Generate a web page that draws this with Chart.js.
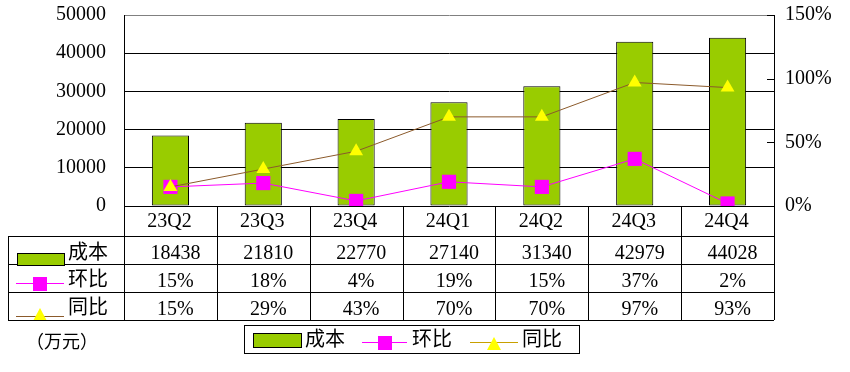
<!DOCTYPE html>
<html>
<head>
<meta charset="utf-8">
<script src="https://cdn.jsdelivr.net/npm/chart.js@4/dist/chart.umd.min.js"></script>
<style>
  html, body { margin: 0; padding: 0; background: #fff; }
  #wrap { width: 850px; height: 372px; }
</style>
</head>
<body>
<div id="wrap"><canvas id="costChart" width="850" height="372"></canvas></div>
<script>
// 数据
const quarters = ['23Q2', '23Q3', '23Q4', '24Q1', '24Q2', '24Q3', '24Q4'];
const cost = [18438, 21810, 22770, 27140, 31340, 42979, 44028];   // 成本（万元）
const qoq = [0.15, 0.18, 0.04, 0.19, 0.15, 0.37, 0.02];           // 环比
const yoy = [0.15, 0.29, 0.43, 0.70, 0.70, 0.97, 0.93];           // 同比
const seriesNames = ['成本', '环比', '同比'];
const unitLabel = '（万元）';

const GREEN = '#99CC00';
const MAGENTA = '#FF00FF';
const YELLOW = '#FFFF00';
const BROWN = '#8B5A2B';
const FONT = "'Liberation Serif', 'Noto Sans CJK SC', serif";

const pct = v => Math.round(v * 100) + '%';

// 表格 + 图例
const tablePlugin = {
    id: 'dataTable',
    afterDraw(chart) {
        const ctx = chart.ctx;
        const area = chart.chartArea;
        const xs = chart.scales.x;
        const y2 = chart.scales.y2;
        const step = xs.getPixelForValue(1) - xs.getPixelForValue(0);
        const rows = [area.bottom, 236, 264, 292, 320];
        const tableLeft = 8;

        ctx.save();
        // 右轴内侧刻度
        ctx.strokeStyle = '#000';
        ctx.lineWidth = 1;
        y2.ticks.forEach(t => {
            const py = Math.round(y2.getPixelForValue(t.value)) + 0.5;
            ctx.beginPath();
            ctx.moveTo(area.right - 7, py);
            ctx.lineTo(area.right, py);
            ctx.stroke();
        });

        // 表格线
        ctx.beginPath();
        for (let i = 1; i < rows.length; i++) {
            const py = rows[i] + 0.5;
            ctx.moveTo(tableLeft, py);
            ctx.lineTo(area.right, py);
        }
        ctx.moveTo(tableLeft + 0.5, rows[1]);
        ctx.lineTo(tableLeft + 0.5, rows[4]);
        for (let i = 0; i <= quarters.length; i++) {
            const px = Math.round(xs.getPixelForValue(i) - step / 2) + 0.5;
            ctx.moveTo(px, rows[0]);
            ctx.lineTo(px, rows[4]);
        }
        ctx.stroke();

        // 表格文字
        ctx.fillStyle = '#000';
        ctx.font = '20px ' + FONT;
        ctx.textAlign = 'center';
        ctx.textBaseline = 'middle';
        const rowTexts = [quarters, cost.map(String), qoq.map(pct), yoy.map(pct)];
        rowTexts.forEach((texts, r) => {
            const cy = (rows[r] + rows[r + 1]) / 2 + (r === 0 ? 1 : 4);
            texts.forEach((t, i) => {
                const cx = xs.getPixelForValue(i) + (r === 0 ? -1 : 5);
                ctx.fillText(t, cx, cy);
            });
        });

        // 表格左侧图例
        ctx.textAlign = 'left';
        drawRect(ctx, 17, 253, 47, 12);
        drawLineMarker(ctx, 16, 64, 283, MAGENTA, 'rect', 40, 284);
        ctx.save();
        ctx.beginPath();
        ctx.rect(tableLeft, rows[3], 116, rows[4] - rows[3]);
        ctx.clip();
        drawLineMarker(ctx, 16, 64, 316, BROWN, 'triangle', 40, 316);
        ctx.restore();
        ctx.fillStyle = '#000';
        ctx.font = '20px ' + FONT;
        ctx.fillText(seriesNames[0], 68, 254);
        ctx.fillText(seriesNames[1], 68, 281);
        ctx.fillText(seriesNames[2], 68, 309);

        // 单位
        ctx.font = '18px ' + FONT;
        ctx.fillText(unitLabel, 26, 343);

        // 底部图例
        ctx.strokeStyle = '#000';
        ctx.strokeRect(244.5, 325.5, 335, 28);
        drawRect(ctx, 253, 333, 48, 14);
        drawLineMarker(ctx, 362, 407, 342, MAGENTA, 'rect', 385, 343);
        drawLineMarker(ctx, 470, 518, 342, '#C8A000', 'triangle', 494, 345);
        ctx.fillStyle = '#000';
        ctx.font = '20px ' + FONT;
        ctx.textBaseline = 'middle';
        ctx.fillText(seriesNames[0], 305, 341);
        ctx.fillText(seriesNames[1], 412, 341);
        ctx.fillText(seriesNames[2], 522, 341);
        ctx.restore();
    }
};

function drawRect(ctx, x, y, w, h) {
    ctx.fillStyle = GREEN;
    ctx.fillRect(x, y, w, h);
    ctx.strokeStyle = '#000';
    ctx.lineWidth = 1;
    ctx.strokeRect(x + 0.5, y + 0.5, w, h);
}

function drawLineMarker(ctx, x1, x2, ly, lineColor, style, mx, my) {
    ctx.strokeStyle = lineColor;
    ctx.lineWidth = 1;
    ctx.beginPath();
    ctx.moveTo(x1, ly + 0.5);
    ctx.lineTo(x2, ly + 0.5);
    ctx.stroke();
    if (style === 'rect') {
        ctx.fillStyle = MAGENTA;
        ctx.fillRect(mx - 7, my - 7, 14, 14);
    } else {
        ctx.fillStyle = YELLOW;
        ctx.beginPath();
        ctx.moveTo(mx, my - 8);
        ctx.lineTo(mx + 7, my + 5);
        ctx.lineTo(mx - 7, my + 5);
        ctx.closePath();
        ctx.fill();
    }
}

function fixWidth(w) {
    return scale => {
        scale.width = w;
        scale.paddingTop = 0;
        scale.paddingBottom = 0;
    };
}

const ctxCost = document.getElementById('costChart').getContext('2d');
const costChart = new Chart(ctxCost, {
    type: 'bar',
    data: {
        labels: quarters,
        datasets: [
            {
                type: 'line',
                label: seriesNames[2],
                data: yoy,
                yAxisID: 'y2',
                borderColor: BROWN,
                borderWidth: 1,
                pointStyle: 'triangle',
                pointRadius: 8,
                pointBackgroundColor: YELLOW,
                pointBorderColor: YELLOW,
                pointBorderWidth: 0,
                order: 0
            },
            {
                type: 'line',
                label: seriesNames[1],
                data: qoq,
                yAxisID: 'y2',
                borderColor: MAGENTA,
                borderWidth: 1,
                pointStyle: 'rect',
                pointRadius: 10,
                pointBackgroundColor: MAGENTA,
                pointBorderColor: MAGENTA,
                pointBorderWidth: 0,
                order: 1
            },
            {
                label: seriesNames[0],
                data: cost,
                yAxisID: 'y',
                backgroundColor: GREEN,
                borderColor: '#000',
                borderWidth: 1,
                borderSkipped: false,
                categoryPercentage: 1,
                barPercentage: 0.4,
                order: 2
            }
        ]
    },
    options: {
        responsive: false,
        animation: false,
        devicePixelRatio: 1,
        layout: {
            padding: { top: 15, bottom: 166, left: 0, right: 0 }
        },
        scales: {
            x: {
                display: false
            },
            y: {
                position: 'left',
                min: 0,
                max: 50000,
                afterFit: fixWidth(124),
                ticks: {
                    stepSize: 10000,
                    padding: 18,
                    color: '#000',
                    font: { family: FONT, size: 20 },
                    callback: v => String(v)
                },
                grid: {
                    drawTicks: false,
                    color: ctx => ctx.tick && ctx.tick.value === 50000 ? '#808080' : '#000'
                },
                border: { color: '#000' }
            },
            y2: {
                position: 'right',
                min: 0,
                max: 1.5,
                afterFit: fixWidth(76),
                ticks: {
                    stepSize: 0.5,
                    padding: 11,
                    color: '#000',
                    font: { family: FONT, size: 20 },
                    callback: v => pct(v)
                },
                grid: {
                    drawOnChartArea: false,
                    drawTicks: false
                },
                border: { color: '#000' }
            }
        },
        plugins: {
            legend: { display: false },
            tooltip: { enabled: false }
        }
    },
    plugins: [tablePlugin]
});
</script>
</body>
</html>
